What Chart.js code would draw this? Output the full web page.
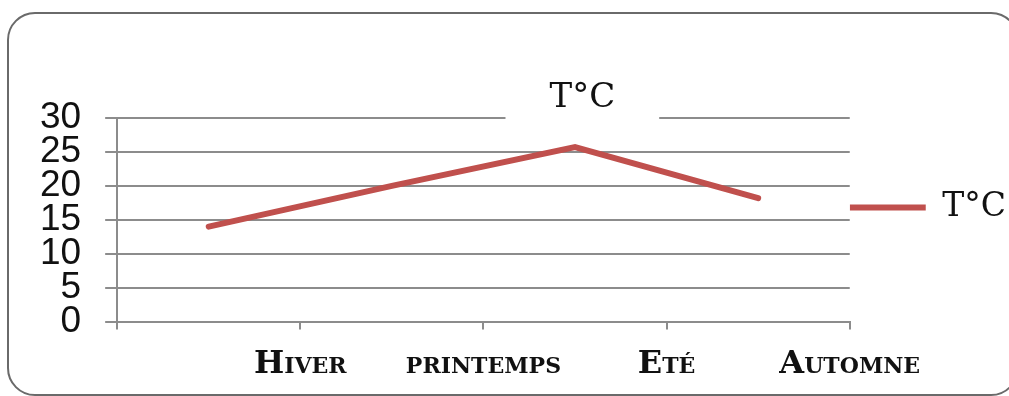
<!DOCTYPE html>
<html lang="fr">
<head>
<meta charset="utf-8">
<script src="https://cdn.jsdelivr.net/npm/chart.js@4.4.1/dist/chart.umd.min.js"></script>
<style>
  html, body { margin: 0; padding: 0; background: #fff; overflow: hidden; }
  #wrap { position: relative; width: 1009px; height: 396px; overflow: hidden; }
  #cadre {
    position: absolute; left: 7px; top: 12px; width: 1012px; height: 384px;
    border: 2px solid #6a6a6a; border-radius: 28px; box-sizing: border-box; pointer-events: none;
  }
  canvas { position: absolute; left: 0; top: 0; }
</style>
</head>
<body>
<div id="wrap">
  <canvas id="graph" width="1009" height="396"></canvas>
  <div id="cadre"></div>
</div>
<script>
// Température moyenne par saison
const saisons = ['Hiver', 'printemps', 'Eté', 'Automne'];
const temperatures = [14, 20, 25.7, 18.2];
const yMin = 0, yMax = 30, yPas = 5;
const titre = 'T°C';
const nomSerie = 'T°C';

const ROUGE = '#c0504d';
const GRIS = '#8c8c8c';

// titre posé sur la ligne de 30, avec un blanc derrière (comme l'original)
const titreCoupe = {
  id: 'titreCoupe',
  afterDraw(chart, args, opts) {
    const { ctx, chartArea } = chart;
    const cx = chartArea.left + (chartArea.right - chartArea.left) * opts.pos;
    ctx.save();
    ctx.font = opts.font;
    const w = ctx.measureText(opts.text).width;
    ctx.fillStyle = '#fff';
    ctx.fillRect(cx - w / 2 - opts.marge, chartArea.top - 3, w + 2 * opts.marge, 6);
    ctx.fillStyle = '#111';
    ctx.textAlign = 'center';
    ctx.textBaseline = 'alphabetic';
    ctx.fillText(opts.text, cx, chartArea.top - 11);
    ctx.restore();
  }
};

new Chart(document.getElementById('graph'), {
  type: 'line',
  data: {
    labels: saisons,
    datasets: [{
      label: nomSerie,
      data: temperatures,
      borderColor: ROUGE,
      backgroundColor: ROUGE,
      borderWidth: 6,
      borderCapStyle: 'round',
      borderJoinStyle: 'miter',
      pointRadius: 0,
      tension: 0,
      xAxisID: 'x',
      yAxisID: 'y',
    }],
  },
  options: {
    responsive: false,
    animation: false,
    layout: { padding: { left: 16, top: 118, right: -7, bottom: -4 } },
    plugins: {
      tooltip: { enabled: false },
      legend: {
        position: 'right',
        align: 'start',
        title: { display: true, text: ' ', font: { size: 10 }, padding: { top: 0, bottom: 61 } },
        labels: {
          boxWidth: 76,
          boxHeight: 0,
          padding: 0,
          color: '#111',
          font: { family: '"DejaVu Serif"', size: 33 },
        },
      },
      titreCoupe: { text: titre, font: '34px "DejaVu Serif"', pos: 0.635, marge: 44 },
    },
    scales: {
      x: {
        type: 'category',
        weight: 0,
        offset: true,
        grid: { offset: true, drawOnChartArea: false, tickLength: 8, color: GRIS, lineWidth: 2 },
        border: { color: GRIS, width: 2 },
        ticks: { display: false },
      },
      xl: {
        type: 'category',
        position: 'bottom',
        weight: 1,
        labels: [''].concat(saisons),
        offset: false,
        grid: { display: false, drawTicks: false },
        border: { display: false },
        ticks: {
          autoSkip: false, maxRotation: 0, padding: 16, color: '#111',
          font: { family: '"DejaVu Serif"', weight: 'small-caps bold', size: 32 },
        },
      },
      y: {
        min: yMin, max: yMax,
        grid: { color: GRIS, lineWidth: 2, tickLength: 12 },
        border: { color: GRIS, width: 2 },
        ticks: {
          stepSize: yPas, autoSkip: false, padding: 24, color: '#111',
          font: { family: '"Liberation Sans"', size: 37 },
        },
      },
    },
  },
  plugins: [titreCoupe],
});
</script>
</body>
</html>
